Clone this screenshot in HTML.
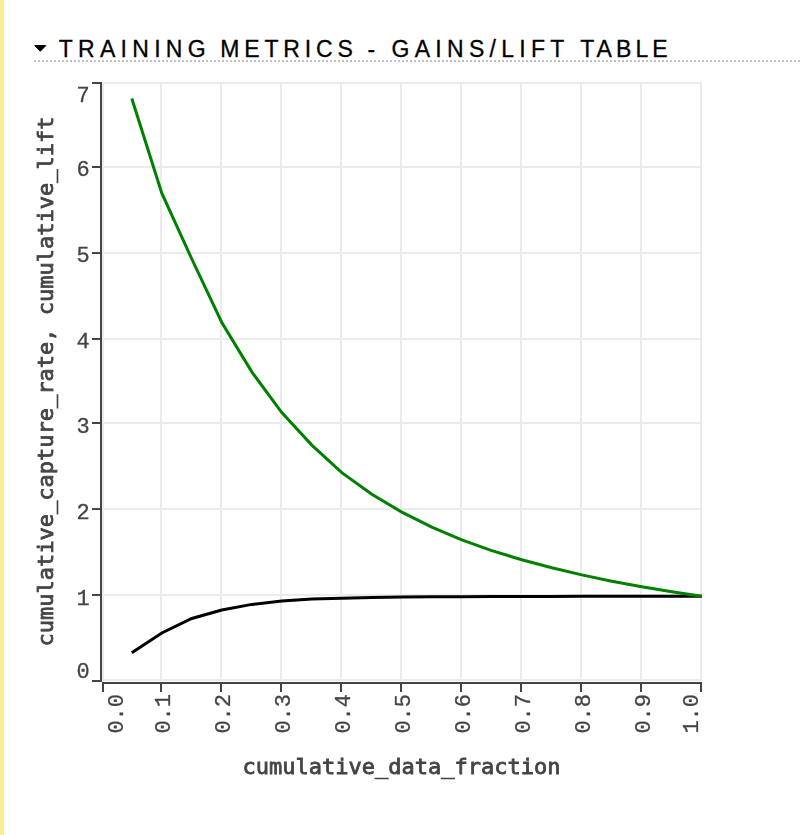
<!DOCTYPE html>
<html><head><meta charset="utf-8"><style>
html,body{margin:0;padding:0;background:#fff;width:802px;height:835px;overflow:hidden}
.bar{position:absolute;left:0;top:0;width:4px;height:835px;background:#fbee8e}
.title{position:absolute;left:0;top:38px;font-family:"Liberation Sans",sans-serif;font-size:23px;line-height:23px;color:#000;white-space:nowrap;-webkit-text-stroke:0.3px #000}
.title span{position:absolute;top:0}
.dots{position:absolute;left:34px;top:60px;width:768px;height:2px;background:repeating-linear-gradient(to right,#c0c0c0 0 2px,transparent 2px 4px)}
svg{position:absolute;left:0;top:0}
.plot{will-change:transform}
</style></head><body>
<div class="bar"></div>
<svg width="802" height="835" viewBox="0 0 802 835">
<polygon points="34.6,45.5 45.9,45.5 40.25,51.3" fill="#000" stroke="#000" stroke-width="1" stroke-linejoin="round"/>
</svg>
<div class="title"><span style="left:58.7px;letter-spacing:5.29px">TRAINING</span><span style="left:220.3px;letter-spacing:4.82px">METRICS</span><span style="left:367.6px">-</span><span style="left:391.6px;letter-spacing:5.27px">GAINS/LIFT</span><span style="left:580.2px;letter-spacing:4.07px">TABLE</span></div>
<div class="dots"></div>
<svg class="plot" width="802" height="835" viewBox="0 0 802 835">
<g stroke="#ebebeb" stroke-width="2" fill="none"><line x1="103" y1="82" x2="103" y2="681"/><line x1="161" y1="82" x2="161" y2="681"/><line x1="221" y1="82" x2="221" y2="681"/><line x1="281" y1="82" x2="281" y2="681"/><line x1="341" y1="82" x2="341" y2="681"/><line x1="401" y1="82" x2="401" y2="681"/><line x1="461" y1="82" x2="461" y2="681"/><line x1="521" y1="82" x2="521" y2="681"/><line x1="581" y1="82" x2="581" y2="681"/><line x1="641" y1="82" x2="641" y2="681"/><line x1="701" y1="82" x2="701" y2="681"/><line x1="102" y1="83" x2="702" y2="83"/><line x1="102" y1="167" x2="702" y2="167"/><line x1="102" y1="253" x2="702" y2="253"/><line x1="102" y1="339" x2="702" y2="339"/><line x1="102" y1="423" x2="702" y2="423"/><line x1="102" y1="509" x2="702" y2="509"/><line x1="102" y1="595" x2="702" y2="595"/><line x1="102" y1="680" x2="702" y2="680"/></g>
<g stroke="#444" stroke-width="2" fill="none">
<line x1="101" y1="82" x2="101" y2="682"/>
<line x1="102" y1="683" x2="702" y2="683"/>
<line x1="103" y1="683" x2="103" y2="692"/><line x1="161" y1="683" x2="161" y2="692"/><line x1="221" y1="683" x2="221" y2="692"/><line x1="281" y1="683" x2="281" y2="692"/><line x1="341" y1="683" x2="341" y2="692"/><line x1="401" y1="683" x2="401" y2="692"/><line x1="461" y1="683" x2="461" y2="692"/><line x1="521" y1="683" x2="521" y2="692"/><line x1="581" y1="683" x2="581" y2="692"/><line x1="641" y1="683" x2="641" y2="692"/><line x1="701" y1="683" x2="701" y2="692"/><line x1="92" y1="83" x2="101" y2="83"/><line x1="92" y1="167" x2="101" y2="167"/><line x1="92" y1="253" x2="101" y2="253"/><line x1="92" y1="339" x2="101" y2="339"/><line x1="92" y1="423" x2="101" y2="423"/><line x1="92" y1="509" x2="101" y2="509"/><line x1="92" y1="595" x2="101" y2="595"/><line x1="92" y1="681" x2="101" y2="681"/>
</g>
<g font-family="'Liberation Mono',monospace" font-size="22" fill="#444" stroke="#444" stroke-width="0.3"><text x="89.6" y="101.7" text-anchor="end">7</text><text x="89.6" y="175.6" text-anchor="end">6</text><text x="89.6" y="261.6" text-anchor="end">5</text><text x="89.6" y="347.8" text-anchor="end">4</text><text x="89.6" y="432.6" text-anchor="end">3</text><text x="89.6" y="518.7" text-anchor="end">2</text><text x="89.6" y="604.8" text-anchor="end">1</text><text x="89.6" y="677.6" text-anchor="end">0</text><text transform="translate(122.5,694) rotate(-90)" text-anchor="end">0.0</text><text transform="translate(170.3,694) rotate(-90)" text-anchor="end">0.1</text><text transform="translate(230.3,694) rotate(-90)" text-anchor="end">0.2</text><text transform="translate(290.3,694) rotate(-90)" text-anchor="end">0.3</text><text transform="translate(350.3,694) rotate(-90)" text-anchor="end">0.4</text><text transform="translate(410.3,694) rotate(-90)" text-anchor="end">0.5</text><text transform="translate(470.3,694) rotate(-90)" text-anchor="end">0.6</text><text transform="translate(530.3,694) rotate(-90)" text-anchor="end">0.7</text><text transform="translate(590.3,694) rotate(-90)" text-anchor="end">0.8</text><text transform="translate(650.3,694) rotate(-90)" text-anchor="end">0.9</text><text transform="translate(698,694) rotate(-90)" text-anchor="end">1.0</text></g>
<g font-family="'DejaVu Sans Mono',monospace" font-size="22" fill="#444" stroke="#444" stroke-width="0.8">
<text x="401.5" y="773.7" text-anchor="middle">cumulative_data_fraction</text>
<text transform="translate(53,381.5) rotate(-90)" text-anchor="middle">cumulative_capture_rate, cumulative_lift</text>
</g>
<polyline points="131.8,652.7 161.8,633.0 191.8,618.5 221.8,610.0 251.8,604.4 281.8,601.1 311.8,599.0 341.8,598.2 371.8,597.5 401.8,597.0 431.8,596.8 461.8,596.7 491.8,596.5 521.8,596.4 551.8,596.4 581.8,596.3 611.8,596.3 641.8,596.2 671.8,596.2 701.8,596.2" fill="none" stroke="#000" stroke-width="3"/>
<polyline points="131.8,98.5 161.8,193.1 191.8,259.0 221.8,322.5 251.8,371.9 281.8,412.6 311.8,445.1 341.8,472.6 371.8,494.3 401.8,512.1 431.8,527.2 461.8,539.8 491.8,550.6 521.8,559.8 551.8,567.8 581.8,574.9 611.8,581.2 641.8,586.7 671.8,591.7 701.8,596.2" fill="none" stroke="#008000" stroke-width="3"/>
</svg>
</body></html>
